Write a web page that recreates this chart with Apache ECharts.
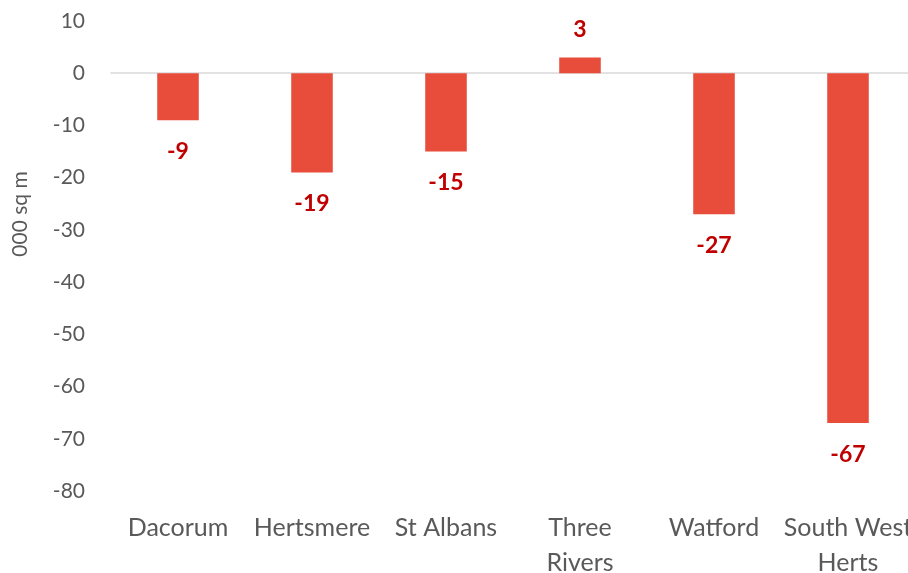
<!DOCTYPE html>
<html><head><meta charset="utf-8">
<script src="https://cdn.jsdelivr.net/npm/echarts@6/dist/echarts.min.js"></script>
<style>html,body{margin:0;padding:0;background:#fff}#c{width:908px;height:573px}</style>
</head><body><div id="c"></div>
<script>
const categories = ['Dacorum', 'Hertsmere', 'St Albans', 'Three\nRivers', 'Watford', 'South West\nHerts'];
const values = [-9, -19, -15, 3, -27, -67];
const yTicks = {min: -80, max: 10, interval: 10};
const axisName = '000 sq m';

const chart = echarts.init(document.getElementById('c'), null, {renderer: 'canvas'});
const FONT = 'Lato';
chart.setOption({
  animation: false,
  grid: {left: 111, right: -7, top: 21, bottom: 82, containLabel: false, outerBoundsMode: 'none'},
  xAxis: {
    type: 'category',
    data: categories,
    axisLine: {onZero: true, lineStyle: {color: '#D9D9D9', width: 1.5}},
    axisTick: {show: false},
    axisLabel: {
      color: '#595959', fontFamily: FONT, fontSize: 25, lineHeight: 35,
      margin: 19, interval: 0
    },
    position: 'bottom'
  },
  yAxis: {
    type: 'value',
    min: yTicks.min, max: yTicks.max, interval: yTicks.interval,
    name: axisName,
    nameLocation: 'middle',
    nameGap: 80,
    nameTextStyle: {color: '#595959', fontFamily: FONT, fontSize: 21, padding: [0, 0, 0, 84]},
    axisLine: {show: false},
    axisTick: {show: false},
    splitLine: {show: false},
    axisLabel: {color: '#595959', fontFamily: FONT, fontSize: 21, margin: 26}
  },
  series: [{
    type: 'bar',
    barWidth: '31%',
    itemStyle: {color: '#E84C3A'},
    data: values.map(v => ({
      value: v,
      label: {
        show: true,
        position: v >= 0 ? 'top' : 'bottom',
        distance: v >= 0 ? 16 : 20,
        color: '#C00000', fontFamily: FONT, fontSize: 23, fontWeight: 'bold'
      }
    }))
  }]
});
</script></body></html>
